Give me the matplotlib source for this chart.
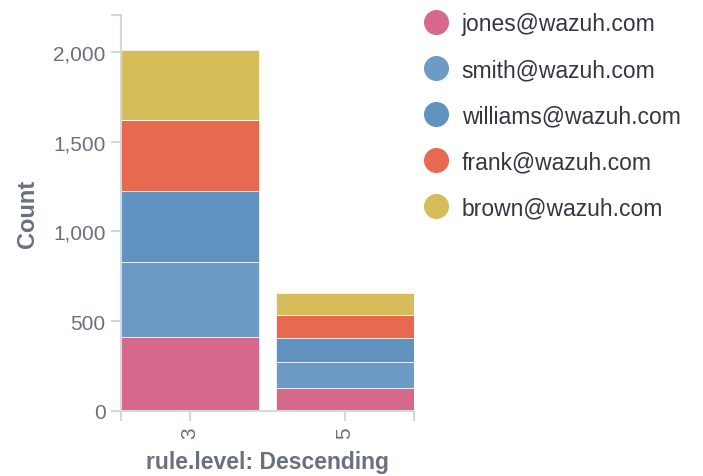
import matplotlib.pyplot as plt
from matplotlib.lines import Line2D

plt.rcParams['font.family'] = ['Liberation Sans', 'DejaVu Sans']

levels = ['3', '5']
users = ['jones@wazuh.com', 'smith@wazuh.com', 'williams@wazuh.com', 'frank@wazuh.com', 'brown@wazuh.com']
jones = [410, 127]
smith = [421, 143]
williams = [397, 134]
frank = [396, 130]
brown = [390, 123]
colors = ['#d6698b', '#6c9bc6', '#6092c0', '#e7694f', '#d6bd59']

gray = '#6a717d'
axcol = '#d3d7de'

fig = plt.figure(figsize=(7.03, 4.77), dpi=100)
ax = fig.add_axes([121/703, 1-411.7/477, (414-121)/703, (411.7-16)/477])

x = [0, 1]
bottom = [0, 0]
for vals, c in zip([jones, smith, williams, frank, brown], colors):
    ax.bar(x, vals, bottom=bottom, width=0.896, color=c, edgecolor='#ffffff', linewidth=0.5)
    bottom = [b + v for b, v in zip(bottom, vals)]

ax.set_xlim(-0.448, 1.448)
ax.set_ylim(0, 2208)
ax.set_yticks([0, 500, 1000, 1500, 2000])
ax.set_yticklabels(['0', '500', '1,000', '1,500', '2,000'])
ax.set_yticks([2208], minor=True)
ax.set_xticks(x)
ax.set_xticklabels(levels, rotation=90)
ax.set_xticks([-0.448, 1.448], minor=True)

for s in ['top', 'right']:
    ax.spines[s].set_visible(False)
for s in ['left', 'bottom']:
    ax.spines[s].set_color(axcol)
    ax.spines[s].set_linewidth(1.5)

ax.tick_params(which='both', length=7, width=1.5, color=axcol, labelcolor=gray, labelsize=15, pad=4)
ax.set_ylabel('Count', fontsize=17, fontweight='bold', color=gray, labelpad=10)
ax.set_xlabel('rule.level: Descending', fontsize=16.5, fontweight='bold', color=gray, labelpad=9)

handles = [Line2D([], [], marker='o', linestyle='', markersize=17, color=c) for c in colors]
fig.legend(handles, users, loc='upper left', bbox_to_anchor=(402/703, 0.997), frameon=False,
           fontsize=16.5, labelcolor='#343741', handletextpad=0.1, labelspacing=1.01, borderaxespad=0.1)

plt.savefig('out.png', dpi=100)
